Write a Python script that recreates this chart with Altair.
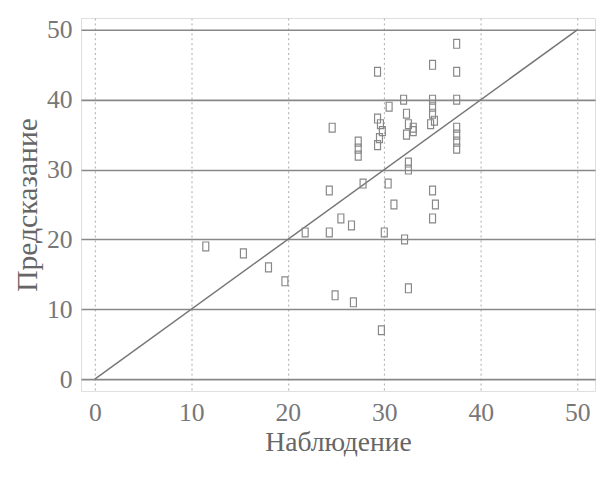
import altair as alt
import pandas as pd

obs = [37.5, 29.3, 35.0, 37.5, 37.5, 30.5,
       35.0, 35.0, 35.0, 35.2, 34.8,
       37.5, 37.5, 37.5, 37.5,
       29.3, 29.6, 29.8, 29.5, 29.3,
       24.6, 27.3, 27.3, 27.3,
       32.0, 32.3, 32.5, 33.0, 32.3, 33.0,
       32.5, 32.5, 27.8, 30.4, 24.3, 35.0, 35.3, 31.0, 35.0,
       25.5, 26.6, 21.8, 24.3, 30.0, 32.1, 11.5, 15.4, 18.0,
       19.7, 32.5, 24.9, 26.8, 29.7]
pred = [48.0, 44.0, 45.0, 44.0, 40.0, 39.0,
        40.0, 39.0, 38.0, 37.0, 36.5,
        36.0, 35.0, 34.0, 33.0,
        37.3, 36.5, 35.5, 34.5, 33.5,
        36.0, 34.0, 33.0, 32.0,
        40.0, 38.0, 36.5, 35.5, 35.0, 36.0,
        31.0, 30.0, 28.0, 28.0, 27.0, 27.0, 25.0, 25.0, 23.0,
        23.0, 22.0, 21.0, 21.0, 21.0, 20.0, 19.0, 18.0, 16.0,
        14.0, 13.0, 12.0, 11.0, 7.0]
diag_x = [0, 50]
diag_y = [0, 50]
ticks = [0, 10, 20, 30, 40, 50]

pts = pd.DataFrame({"obs": obs, "pred": pred})
diag = pd.DataFrame({"obs": diag_x, "pred": diag_y})

font = "Liberation Serif"
xs = alt.Scale(domain=[-1.43, 51.84], nice=False, zero=False)
ys = alt.Scale(domain=[-1.69, 51.7], nice=False, zero=False)

xaxis = alt.Axis(values=ticks, title="Наблюдение", grid=True, gridColor="#aaaaaa",
                 gridDash=[2, 3], gridWidth=1, ticks=False, domain=False,
                 labelFont=font, labelFontSize=26, labelColor="#777777", labelPadding=9,
                 titleFont=font, titleFontSize=28, titleFontWeight="normal",
                 titleColor="#666666", titlePadding=3)
yaxis = alt.Axis(values=ticks, title="Предсказание", grid=True, gridColor="#888888",
                 gridWidth=1.6, ticks=False, domain=False,
                 labelFont=font, labelFontSize=26, labelColor="#777777", labelPadding=9,
                 titleFont=font, titleFontSize=30, titleFontWeight="normal",
                 titleColor="#666666", titlePadding=4)

line = alt.Chart(diag).mark_line(color="#777777", strokeWidth=1.5).encode(
    x=alt.X("obs:Q", scale=xs, axis=xaxis),
    y=alt.Y("pred:Q", scale=ys, axis=yaxis),
)

points = alt.Chart(pts).mark_point(
    shape="M-0.67,-1L0.67,-1L0.67,1L-0.67,1Z", size=81,
    filled=False, color="#888888", strokeWidth=1.2, opacity=1,
).encode(
    x=alt.X("obs:Q", scale=xs),
    y=alt.Y("pred:Q", scale=ys),
)

chart = alt.layer(line, points).properties(
    width=521, height=378,
    autosize=alt.AutoSizeParams(type="none"),
    padding={"left": 74, "top": 7, "right": 3, "bottom": 76},
).configure_view(stroke="#777777", strokeWidth=1.5).configure(background="white")

chart.save("out.html", embed_options={"renderer": "svg", "actions": False})
